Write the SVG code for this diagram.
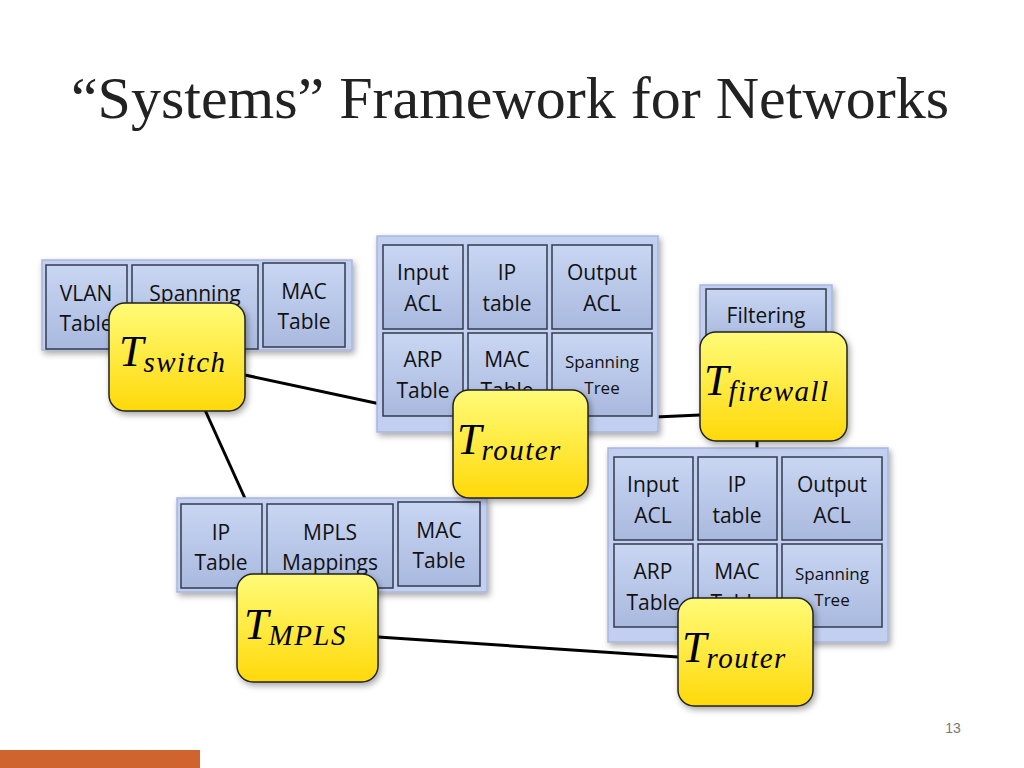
<svg xmlns="http://www.w3.org/2000/svg" width="1024" height="768" viewBox="0 0 1024 768">
<defs>
<linearGradient id="yg" x1="0" y1="0" x2="0" y2="1"><stop offset="0" stop-color="#fffb78"/><stop offset="1" stop-color="#ffd90a"/></linearGradient>
<linearGradient id="bg" x1="0" y1="0" x2="0" y2="1"><stop offset="0" stop-color="#c9d6f3"/><stop offset="1" stop-color="#a9b9de"/></linearGradient>
<filter id="sh" x="-10%" y="-10%" width="130%" height="130%"><feDropShadow dx="2" dy="3" stdDeviation="3" flood-opacity="0.35"/></filter>
</defs>
<style>
.grp{fill:#c3cff0;stroke:#a9b7dc;stroke-width:1.5;filter:url(#sh)}
.cell{fill:url(#bg);stroke:#333c4c;stroke-width:1.5}
.ct{font-family:"Open Sans","DejaVu Sans",sans-serif;font-size:21px;fill:#111;text-anchor:middle}
.cs{font-size:17px}
.tb{fill:url(#yg);stroke:#222;stroke-width:1.5;filter:url(#sh)}
.tt{font-family:"Liberation Serif",serif;font-style:italic;font-size:44px;fill:#000}
.sub{font-size:29px;letter-spacing:1.5px}
.ln{stroke:#000;stroke-width:3;fill:none}
</style>
<rect width="1024" height="768" fill="#fff"/>
<text x="510" y="118" font-family="Liberation Serif,serif" font-size="60" text-anchor="middle" fill="#222">“Systems” Framework for Networks</text>
<g id="connectors">
<path class="ln" d="M245 375 L455 420"/>
<path class="ln" d="M205 410 L248 505"/>
<path class="ln" d="M588 420 L700 415"/>
<path class="ln" d="M757 441 L757 450"/>
<path class="ln" d="M378 637 L678 657"/>
</g>
<g id="switch-tables">
<rect class="grp" x="42" y="260" width="310" height="90"/>
<rect class="cell" x="46" y="265" width="81" height="84"/><text class="ct" x="86" y="301">VLAN</text><text class="ct" x="86" y="331">Table</text>
<rect class="cell" x="132" y="265" width="126" height="84"/><text class="ct" x="195" y="301">Spanning</text><text class="ct" x="195" y="331">Tree</text>
<rect class="cell" x="263" y="263" width="82" height="84"/><text class="ct" x="304" y="299">MAC</text><text class="ct" x="304" y="329">Table</text>
</g>
<g id="router-tables">
<rect class="grp" x="377" y="236" width="281" height="196"/>
<rect class="cell" x="383" y="245" width="80" height="84"/><text class="ct" x="423" y="280">Input</text><text class="ct" x="423" y="311">ACL</text>
<rect class="cell" x="468" y="245" width="79" height="84"/><text class="ct" x="507" y="280">IP</text><text class="ct" x="507" y="311">table</text>
<rect class="cell" x="552" y="245" width="100" height="84"/><text class="ct" x="602" y="280">Output</text><text class="ct" x="602" y="311">ACL</text>
<rect class="cell" x="383" y="333" width="80" height="83"/><text class="ct" x="423" y="367">ARP</text><text class="ct" x="423" y="398">Table</text>
<rect class="cell" x="468" y="333" width="79" height="83"/><text class="ct" x="507" y="367">MAC</text><text class="ct" x="507" y="398">Table</text>
<rect class="cell" x="552" y="333" width="100" height="83"/><text class="ct cs" x="602" y="368">Spanning</text><text class="ct cs" x="602" y="394">Tree</text>
</g>
<g id="firewall-tables">
<rect class="grp" x="700" y="285" width="132" height="60"/>
<rect class="cell" x="706" y="289" width="120" height="52"/><text class="ct" x="766" y="323">Filtering</text>
</g>
<g id="router2-tables">
<rect class="grp" x="608" y="448" width="280" height="194"/>
<rect class="cell" x="614" y="457" width="79" height="83"/><text class="ct" x="653" y="492">Input</text><text class="ct" x="653" y="523">ACL</text>
<rect class="cell" x="698" y="457" width="79" height="83"/><text class="ct" x="737" y="492">IP</text><text class="ct" x="737" y="523">table</text>
<rect class="cell" x="782" y="457" width="100" height="83"/><text class="ct" x="832" y="492">Output</text><text class="ct" x="832" y="523">ACL</text>
<rect class="cell" x="614" y="544" width="79" height="83"/><text class="ct" x="653" y="579">ARP</text><text class="ct" x="653" y="610">Table</text>
<rect class="cell" x="698" y="544" width="79" height="83"/><text class="ct" x="737" y="579">MAC</text><text class="ct" x="737" y="610">Table</text>
<rect class="cell" x="782" y="544" width="100" height="83"/><text class="ct cs" x="832" y="580">Spanning</text><text class="ct cs" x="832" y="606">Tree</text>
</g>
<g id="mpls-tables">
<rect class="grp" x="177" y="498" width="310" height="94"/>
<rect class="cell" x="181" y="504" width="81" height="84"/><text class="ct" x="221" y="540">IP</text><text class="ct" x="221" y="570">Table</text>
<rect class="cell" x="267" y="504" width="126" height="84"/><text class="ct" x="330" y="540">MPLS</text><text class="ct" x="330" y="570">Mappings</text>
<rect class="cell" x="398" y="502" width="82" height="84"/><text class="ct" x="439" y="538">MAC</text><text class="ct" x="439" y="568">Table</text>
</g>
<g id="t-switch"><rect class="tb" x="109" y="303" width="136" height="108" rx="16"/><text class="tt" x="119" y="366">T<tspan class="sub" dy="6">switch</tspan></text></g>
<g id="t-router"><rect class="tb" x="453" y="390" width="135" height="108" rx="16"/><text class="tt" x="457" y="454">T<tspan class="sub" dy="6">router</tspan></text></g>
<g id="t-firewall"><rect class="tb" x="700" y="332" width="147" height="109" rx="16"/><text class="tt" x="704" y="395">T<tspan class="sub" dy="6" letter-spacing="0.5">firewall</tspan></text></g>
<g id="t-mpls"><rect class="tb" x="237" y="574" width="141" height="108" rx="16"/><text class="tt" x="244" y="639">T<tspan class="sub" dy="6" font-size="25">MPLS</tspan></text></g>
<g id="t-router2"><rect class="tb" x="678" y="598" width="135" height="108" rx="16"/><text class="tt" x="682" y="662">T<tspan class="sub" dy="6">router</tspan></text></g>
<text x="953" y="733" font-family="Liberation Sans,sans-serif" font-size="14" fill="#777" text-anchor="middle">13</text>
<rect x="0" y="750" width="200" height="18" fill="#d0642e"/>
</svg>
